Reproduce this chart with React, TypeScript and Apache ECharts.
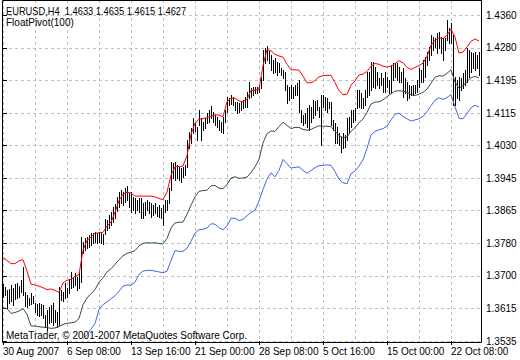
import React, { useEffect, useRef } from 'react';
import * as echarts from 'echarts';

// x-axis labels, one every 32 H4 bars
const dateLabels = ['30 Aug 2007', '6 Sep 08:00', '13 Sep 16:00', '21 Sep 00:00', '28 Sep 08:00', '5 Oct 16:00', '15 Oct 00:00', '22 Oct 08:00'];
const DATE_LABEL_EVERY = 32;
const GRID_EVERY = 16;

// price axis labels (as printed), base and step between ticks
const priceLabels = ['1.3535', '1.3615', '1.3700', '1.3780', '1.3865', '1.3945', '1.4030', '1.4115', '1.4195', '1.4280', '1.4360'];
const PRICE_BASE = 1.3535;
const PRICE_STEP = 0.00825;
const TICKS_VISIBLE = 10.47;

const headerText = 'EURUSD,H4  1.4633 1.4635 1.4615 1.4627';
const indicatorText = 'FloatPivot(100)';
const copyrightText = 'MetaTrader, \u00a9 2001-2007 MetaQuotes Software Corp.';

// H4 bars: high / low
const barHigh = [
  1.3679, 1.3671, 1.3663, 1.3666, 1.3676, 1.3669, 1.3679, 1.3681, 1.3674, 1.3689,
  1.3722, 1.3658, 1.3651, 1.3643, 1.3656, 1.3648, 1.3631, 1.3628, 1.3631, 1.3628,
  1.3625, 1.3600, 1.3613, 1.3620, 1.3625, 1.3631, 1.3613, 1.3608, 1.3671, 1.3663,
  1.3658, 1.3681, 1.3669, 1.3691, 1.3709, 1.3696, 1.3707, 1.3696, 1.3709, 1.3798,
  1.3785, 1.3795, 1.3798, 1.3803, 1.3808, 1.3808, 1.3810, 1.3808, 1.3810, 1.3808,
  1.3805, 1.3843, 1.3841, 1.3853, 1.3861, 1.3874, 1.3881, 1.3899, 1.3912, 1.3917,
  1.3912, 1.3922, 1.3927, 1.3909, 1.3912, 1.3899, 1.3897, 1.3891, 1.3897, 1.3897,
  1.3884, 1.3886, 1.3891, 1.3886, 1.3884, 1.3879, 1.3884, 1.3874, 1.3879, 1.3871,
  1.3879, 1.3891, 1.3891, 1.3922, 1.3988, 1.3985, 1.3988, 1.3980, 1.3975, 1.3973,
  1.3975, 1.3980, 1.4043, 1.4064, 1.4074, 1.4099, 1.4086, 1.4076, 1.4119, 1.4099,
  1.4089, 1.4099, 1.4112, 1.4119, 1.4130, 1.4114, 1.4107, 1.4102, 1.4094, 1.4089,
  1.4102, 1.4119, 1.4152, 1.4150, 1.4157, 1.4152, 1.4140, 1.4140, 1.4137, 1.4140,
  1.4145, 1.4152, 1.4165, 1.4190, 1.4175, 1.4178, 1.4178, 1.4178, 1.4183, 1.4203,
  1.4271, 1.4276, 1.4282, 1.4269, 1.4259, 1.4246, 1.4251, 1.4241, 1.4238, 1.4226,
  1.4221, 1.4216, 1.4183, 1.4178, 1.4183, 1.4178, 1.4183, 1.4188, 1.4195, 1.4119,
  1.4107, 1.4112, 1.4124, 1.4132, 1.4127, 1.4145, 1.4142, 1.4145, 1.4127, 1.4157,
  1.4157, 1.4152, 1.4150, 1.4140, 1.4140, 1.4094, 1.4086, 1.4076, 1.4061, 1.4051,
  1.4061, 1.4056, 1.4099, 1.4102, 1.4119, 1.4119, 1.4124, 1.4170, 1.4170, 1.4162,
  1.4150, 1.4170, 1.4216, 1.4216, 1.4241, 1.4241, 1.4228, 1.4216, 1.4200, 1.4213,
  1.4200, 1.4216, 1.4203, 1.4195, 1.4233, 1.4238, 1.4238, 1.4238, 1.4228, 1.4216,
  1.4226, 1.4200, 1.4190, 1.4183, 1.4180, 1.4183, 1.4183, 1.4195, 1.4226, 1.4221,
  1.4246, 1.4254, 1.4266, 1.4279, 1.4309, 1.4304, 1.4302, 1.4314, 1.4317, 1.4304,
  1.4302, 1.4302, 1.4347, 1.4327, 1.4340, 1.4309, 1.4203, 1.4195, 1.4203, 1.4200,
  1.4213, 1.4221, 1.4276, 1.4271, 1.4266, 1.4264, 1.4266, 1.4259, 1.4266, 1.4266,
];
const barLow = [
  1.3646, 1.3651, 1.3618, 1.3631, 1.3636, 1.3625, 1.3641, 1.3643, 1.3646, 1.3658,
  1.3651, 1.3623, 1.3620, 1.3625, 1.3628, 1.3631, 1.3608, 1.3600, 1.3598, 1.3600,
  1.3593, 1.3570, 1.3562, 1.3580, 1.3582, 1.3575, 1.3582, 1.3570, 1.3575, 1.3638,
  1.3636, 1.3643, 1.3646, 1.3656, 1.3669, 1.3671, 1.3676, 1.3663, 1.3669, 1.3684,
  1.3757, 1.3765, 1.3770, 1.3772, 1.3777, 1.3783, 1.3785, 1.3783, 1.3785, 1.3783,
  1.3780, 1.3805, 1.3815, 1.3821, 1.3828, 1.3836, 1.3846, 1.3864, 1.3874, 1.3884,
  1.3879, 1.3886, 1.3891, 1.3874, 1.3861, 1.3866, 1.3859, 1.3866, 1.3861, 1.3846,
  1.3846, 1.3853, 1.3866, 1.3859, 1.3848, 1.3853, 1.3859, 1.3851, 1.3848, 1.3846,
  1.3828, 1.3861, 1.3866, 1.3884, 1.3917, 1.3947, 1.3942, 1.3947, 1.3942, 1.3937,
  1.3950, 1.3955, 1.3975, 1.4023, 1.4036, 1.4061, 1.4066, 1.4043, 1.4081, 1.4043,
  1.4069, 1.4074, 1.4086, 1.4089, 1.4099, 1.4089, 1.4081, 1.4076, 1.4069, 1.4064,
  1.4061, 1.4089, 1.4114, 1.4132, 1.4135, 1.4132, 1.4119, 1.4112, 1.4114, 1.4119,
  1.4124, 1.4127, 1.4127, 1.4150, 1.4152, 1.4157, 1.4162, 1.4162, 1.4165, 1.4175,
  1.4195, 1.4238, 1.4246, 1.4238, 1.4221, 1.4213, 1.4216, 1.4208, 1.4216, 1.4208,
  1.4200, 1.4170, 1.4137, 1.4145, 1.4150, 1.4150, 1.4157, 1.4157, 1.4114, 1.4089,
  1.4081, 1.4086, 1.4076, 1.4069, 1.4089, 1.4099, 1.4107, 1.4119, 1.4102, 1.4031,
  1.4127, 1.4119, 1.4114, 1.4124, 1.4081, 1.4069, 1.4036, 1.4036, 1.4031, 1.4013,
  1.4023, 1.4026, 1.4043, 1.4064, 1.4076, 1.4089, 1.4094, 1.4124, 1.4127, 1.4124,
  1.4124, 1.4132, 1.4152, 1.4157, 1.4170, 1.4178, 1.4175, 1.4183, 1.4175, 1.4183,
  1.4165, 1.4165, 1.4178, 1.4162, 1.4165, 1.4195, 1.4203, 1.4195, 1.4190, 1.4190,
  1.4152, 1.4162, 1.4145, 1.4150, 1.4157, 1.4157, 1.4162, 1.4165, 1.4178, 1.4190,
  1.4190, 1.4203, 1.4233, 1.4246, 1.4259, 1.4271, 1.4279, 1.4264, 1.4276, 1.4264,
  1.4246, 1.4271, 1.4297, 1.4289, 1.4289, 1.4132, 1.4132, 1.4150, 1.4145, 1.4170,
  1.4175, 1.4183, 1.4190, 1.4203, 1.4216, 1.4226, 1.4221, 1.4226, 1.4208, 1.4200,
];

// FloatPivot(100) lines, read every 2 bars
const LINE_STEP = 2;
const upperBand = [
  1.3746, 1.3739, 1.3731, 1.3731, 1.3738, 1.3741, 1.3712, 1.3679, 1.3677, 1.3674,
  1.3670, 1.3665, 1.3667, 1.3663, 1.3658, 1.3682, 1.3689, 1.3691, 1.3699, 1.3703,
  1.3765, 1.3790, 1.3798, 1.3808, 1.3809, 1.3810, 1.3826, 1.3836, 1.3861, 1.3891,
  1.3907, 1.3912, 1.3910, 1.3902, 1.3902, 1.3902, 1.3902, 1.3902, 1.3900, 1.3896,
  1.3893, 1.3912, 1.3955, 1.3976, 1.3977, 1.3978, 1.4005, 1.4059, 1.4086, 1.4097,
  1.4098, 1.4101, 1.4104, 1.4108, 1.4107, 1.4103, 1.4141, 1.4150, 1.4150, 1.4143,
  1.4141, 1.4147, 1.4170, 1.4170, 1.4173, 1.4233, 1.4273, 1.4270, 1.4261, 1.4257,
  1.4254, 1.4236, 1.4222, 1.4222, 1.4221, 1.4206, 1.4189, 1.4189, 1.4195, 1.4204,
  1.4207, 1.4208, 1.4208, 1.4189, 1.4169, 1.4159, 1.4160, 1.4183, 1.4194, 1.4209,
  1.4211, 1.4218, 1.4231, 1.4238, 1.4236, 1.4231, 1.4229, 1.4231, 1.4238, 1.4245,
  1.4240, 1.4228, 1.4223, 1.4228, 1.4233, 1.4239, 1.4256, 1.4284, 1.4297, 1.4303,
  1.4301, 1.4309, 1.4325, 1.4305, 1.4264, 1.4267, 1.4280, 1.4294, 1.4300, 1.4295,
];
const middleBand = [
  1.3619, 1.3617, 1.3605, 1.3607, 1.3611, 1.3617, 1.3603, 1.3573, 1.3573, 1.3571,
  1.3570, 1.3569, 1.3567, 1.3568, 1.3572, 1.3577, 1.3580, 1.3581, 1.3583, 1.3592,
  1.3627, 1.3644, 1.3655, 1.3665, 1.3684, 1.3695, 1.3710, 1.3718, 1.3729, 1.3741,
  1.3751, 1.3757, 1.3760, 1.3764, 1.3776, 1.3782, 1.3784, 1.3783, 1.3784, 1.3782,
  1.3781, 1.3795, 1.3821, 1.3834, 1.3836, 1.3836, 1.3856, 1.3879, 1.3900, 1.3914,
  1.3916, 1.3917, 1.3928, 1.3929, 1.3922, 1.3921, 1.3931, 1.3948, 1.3951, 1.3947,
  1.3948, 1.3950, 1.3962, 1.3976, 1.3995, 1.4037, 1.4060, 1.4067, 1.4066, 1.4078,
  1.4089, 1.4081, 1.4073, 1.4076, 1.4076, 1.4071, 1.4069, 1.4071, 1.4076, 1.4080,
  1.4079, 1.4079, 1.4078, 1.4066, 1.4056, 1.4050, 1.4052, 1.4066, 1.4075, 1.4088,
  1.4097, 1.4114, 1.4135, 1.4140, 1.4141, 1.4146, 1.4154, 1.4161, 1.4168, 1.4169,
  1.4168, 1.4165, 1.4159, 1.4157, 1.4160, 1.4165, 1.4173, 1.4188, 1.4203, 1.4207,
  1.4206, 1.4213, 1.4222, 1.4191, 1.4175, 1.4182, 1.4192, 1.4202, 1.4205, 1.4202,
];
// lower band is below the visible range before bar 40
const LOWER_START_BAR = 40;
const lowerBand = [
  1.3541, 1.3551, 1.3565, 1.3579, 1.3615, 1.3627, 1.3634, 1.3642, 1.3650, 1.3661,
  1.3674, 1.3677, 1.3676, 1.3684, 1.3704, 1.3712, 1.3714, 1.3714, 1.3712, 1.3710,
  1.3708, 1.3712, 1.3739, 1.3764, 1.3762, 1.3762, 1.3770, 1.3788, 1.3808, 1.3817,
  1.3818, 1.3821, 1.3832, 1.3831, 1.3822, 1.3817, 1.3826, 1.3846, 1.3846, 1.3840,
  1.3843, 1.3852, 1.3861, 1.3866, 1.3890, 1.3919, 1.3945, 1.3961, 1.3951, 1.3967,
  1.3995, 1.3984, 1.3973, 1.3975, 1.3976, 1.3967, 1.3960, 1.3967, 1.3974, 1.3979,
  1.3980, 1.3981, 1.3980, 1.3964, 1.3945, 1.3936, 1.3933, 1.3959, 1.3965, 1.3978,
  1.3994, 1.4023, 1.4057, 1.4066, 1.4070, 1.4073, 1.4079, 1.4095, 1.4109, 1.4112,
  1.4104, 1.4098, 1.4092, 1.4095, 1.4098, 1.4104, 1.4116, 1.4131, 1.4145, 1.4151,
  1.4147, 1.4152, 1.4159, 1.4128, 1.4099, 1.4098, 1.4111, 1.4126, 1.4132, 1.4128,
];

const FONT = "'Liberation Sans', Arial, sans-serif";

export default function App() {
  const ref = useRef<HTMLDivElement>(null);

  useEffect(() => {
    if (!ref.current) return;
    const chart = echarts.init(ref.current, null, { renderer: 'svg' });
    const nBars = barHigh.length;
    const gridLine = { show: true, lineStyle: { color: '#c0c0c0', width: 1, type: [3, 3] as any } };

    const option: any = {
      animation: false,
      backgroundColor: '#ffffff',
      grid: { left: 3, right: 39, top: 0, bottom: 19, containLabel: false },
      xAxis: [
        {
          type: 'value', min: 0, max: nBars - 1, interval: GRID_EVERY,
          axisLine: { show: false }, axisTick: { show: false }, axisLabel: { show: false },
          splitLine: gridLine,
        },
        {
          type: 'value', min: 0, max: nBars - 1, interval: DATE_LABEL_EVERY, position: 'bottom',
          axisLine: { show: false },
          axisTick: { show: true, length: 4, lineStyle: { color: '#000' } },
          axisLabel: {
            show: true, align: 'left', margin: 5, color: '#000', fontFamily: FONT, fontSize: 10,
            showMaxLabel: false,
            formatter: (v: number) => (v % DATE_LABEL_EVERY === 0 ? dateLabels[v / DATE_LABEL_EVERY] ?? '' : ''),
          },
          splitLine: { show: false },
        },
      ],
      yAxis: [
        {
          type: 'value', min: PRICE_BASE, max: PRICE_BASE + TICKS_VISIBLE * PRICE_STEP, show: false,
        },
        {
          type: 'value', min: 0, max: TICKS_VISIBLE, interval: 1, position: 'right',
          axisLine: { show: false },
          axisTick: { show: true, length: 4, lineStyle: { color: '#000' } },
          axisLabel: {
            margin: 5, color: '#000', fontFamily: FONT, fontSize: 10, showMaxLabel: false,
            formatter: (v: number) => (Number.isInteger(v) ? priceLabels[v] ?? '' : ''),
          },
          splitLine: gridLine,
        },
      ],
      graphic: [
        {
          type: 'rect', silent: true, z: 100,
          shape: { x: 2.5, y: 0.5, width: 479, height: 342 },
          style: { fill: 'none', stroke: '#000', lineWidth: 1 },
        },
        {
          type: 'text', x: 6, y: 6, z: 101, scaleX: 0.93, originX: 0,
          style: { text: headerText, fill: '#000', font: `10px ${FONT}`, textVerticalAlign: 'top' },
        },
        {
          type: 'text', x: 6, y: 17, z: 101,
          style: { text: indicatorText, fill: '#000', font: `10px ${FONT}`, textVerticalAlign: 'top' },
        },
        {
          type: 'text', x: 6, y: 330, z: 101,
          style: { text: copyrightText, fill: '#000', font: `10px ${FONT}`, textVerticalAlign: 'top' },
        },
      ],
      series: [
        {
          type: 'custom', name: 'EURUSD', xAxisIndex: 0, yAxisIndex: 0, z: 2,
          data: barHigh.map((h, i) => [i, h, barLow[i]]),
          encode: { x: 0, y: [1, 2] },
          renderItem: (params: any, api: any) => {
            const i = api.value(0);
            const top = api.coord([i, api.value(1)]);
            const bot = api.coord([i, api.value(2)]);
            const x = Math.floor(top[0]) + 0.5;
            return {
              type: 'line',
              shape: { x1: x, y1: Math.round(top[1]), x2: x, y2: Math.round(bot[1]) + 1 },
              style: { stroke: '#000', lineWidth: 1 },
            };
          },
        },
        {
          type: 'line', name: 'upper', xAxisIndex: 0, yAxisIndex: 0, z: 3, symbol: 'none',
          data: upperBand.map((v, k) => [k * LINE_STEP, v]),
          lineStyle: { color: '#ff0000', width: 1 },
        },
        {
          type: 'line', name: 'middle', xAxisIndex: 0, yAxisIndex: 0, z: 3, symbol: 'none',
          data: middleBand.map((v, k) => [k * LINE_STEP, v]),
          lineStyle: { color: '#2f4f4f', width: 1 },
        },
        {
          type: 'line', name: 'lower', xAxisIndex: 0, yAxisIndex: 0, z: 3, symbol: 'none',
          data: lowerBand.map((v, k) => [LOWER_START_BAR + k * LINE_STEP, v]),
          lineStyle: { color: '#4169e1', width: 1 },
        },
      ],
    };

    chart.setOption(option);
    return () => chart.dispose();
  }, []);

  return <div ref={ref} style={{ width: 520, height: 360, position: 'absolute', left: 0, top: 0 }} />;
}
